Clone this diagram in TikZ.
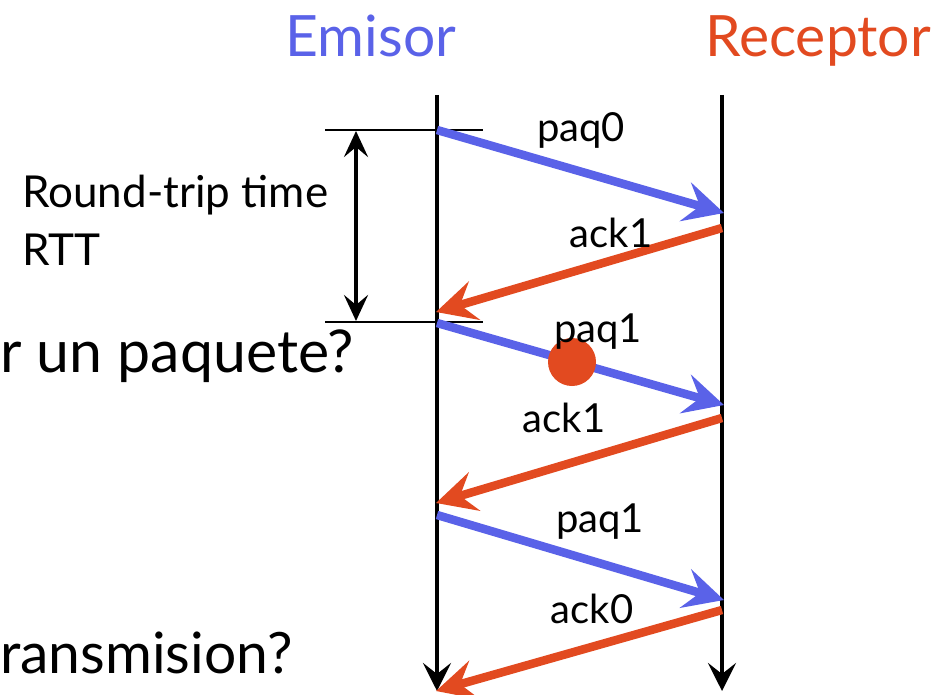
\documentclass[tikz,border=0pt]{standalone}
\usepackage{fontspec}
\setmainfont{Lato}
\usetikzlibrary{arrows.meta}
\definecolor{eblue}{RGB}{90,98,232}
\definecolor{rorange}{RGB}{226,74,32}
\tikzset{
  timeline/.style={line width=3.8pt,-{Stealth[length=28pt,width=28pt,inset=11pt]}},
  msg/.style={line width=8.5pt,-{Stealth[length=40pt,width=40pt,inset=15pt]}},
  msgblue/.style={msg,eblue},
  msgred/.style={msg,rorange},
  lbl/.style={font=\fontsize{40}{42}\selectfont,inner sep=0pt,anchor=base},
  big/.style={font=\fontsize{59}{62}\selectfont,inner sep=0pt,anchor=base west},
  head/.style={font=\fontsize{57}{60}\selectfont,inner sep=0pt,anchor=base},
  side/.style={font=\fontsize{44}{46}\selectfont,inner sep=0pt,anchor=base west},
  thin/.style={line width=1.2pt}
}
\begin{document}
\begin{tikzpicture}[x=1pt,y=-1pt]
\useasboundingbox (0,0) rectangle (944,695);
% headings
\node[head,text=eblue] (emisor) at (371,57) {Emisor};
\node[head,text=rorange] (receptor) at (818,57) {Receptor};
% timeline coordinates
\coordinate (etop) at (437,95);
\coordinate (ebot) at (437,691);
\coordinate (rtop) at (722,95);
\coordinate (rbot) at (722,691);
\draw[timeline] (etop) -- (ebot);
\draw[timeline] (rtop) -- (rbot);
% event points
\coordinate (s0) at (437,130);
\coordinate (r0) at (724,213);
\coordinate (r1) at (722,228);
\coordinate (s1) at (436,312);
\coordinate (s2) at (437,323);
\coordinate (r2) at (724,405);
\coordinate (r3) at (722,418);
\coordinate (s3) at (436,503);
\coordinate (s4) at (437,515);
\coordinate (r4) at (724,600);
\coordinate (r5) at (722,610);
\coordinate (s5) at (436,691);
% RTT bracket
\coordinate (b1l) at (325,130);
\coordinate (b1r) at (483,130);
\coordinate (b2l) at (325,322);
\coordinate (b2r) at (483,322);
\draw[thin] (b1l) -- (b1r);
\draw[thin] (b2l) -- (b2r);
\coordinate (rtta) at (356,131);
\coordinate (rttb) at (356,321);
\draw[line width=4pt,{Stealth[length=26pt,width=24pt,inset=10pt]}-{Stealth[length=26pt,width=24pt,inset=10pt]}] (rtta) -- (rttb);
\node[side] (rtt1) at (22,207) {Round-trip time};
\node[side] (rtt2) at (22,265) {RTT};
% messages
\draw[msgblue] (s0) -- (r0);
\draw[msgred] (r1) -- (s1);
\draw[msgblue] (s2) -- (r2);
\node[circle,fill=rorange,minimum size=48pt,inner sep=0pt] (loss) at (572,362) {};
\draw[msgred] (r3) -- (s3);
\draw[msgblue] (s4) -- (r4);
\draw[msgred] (r5) -- (s5);
% labels
\node[lbl] (l0) at (581,142) {paq0};
\node[lbl] (l1) at (611,247) {ack1};
\node[lbl] (l2) at (598,342) {paq1};
\node[lbl] (l3) at (564,432) {ack1};
\node[lbl] (l4) at (600,532) {paq1};
\node[lbl] (l5) at (592,623) {ack0};
% cut-off question text
\node[big] (q1) at (0,372) {r un paquete?};
\node[big,font=\fontsize{57}{60}\selectfont] (q2) at (0,673) {ransmision?};
\end{tikzpicture}
\end{document}
